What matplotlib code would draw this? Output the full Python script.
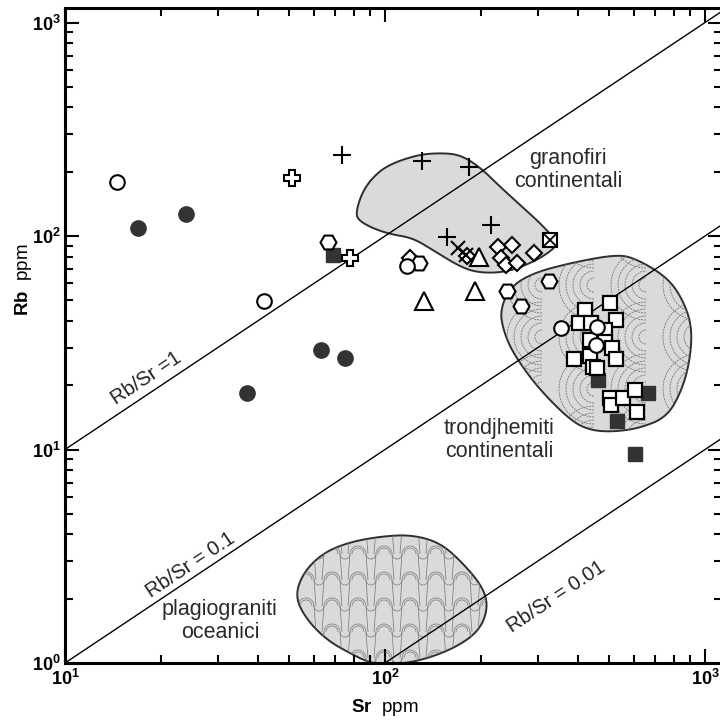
import numpy as np
import matplotlib
matplotlib.use("Agg")
import matplotlib.pyplot as plt
from matplotlib.patches import Polygon
from matplotlib.collections import LineCollection
from matplotlib.ticker import FuncFormatter, LogLocator, NullFormatter

plt.rcParams['font.family'] = ['Liberation Sans', 'DejaVu Sans']
plt.rcParams['mathtext.fontset'] = 'custom'
plt.rcParams['mathtext.rm'] = 'Liberation Sans'
plt.rcParams['mathtext.bf'] = 'Liberation Sans:bold'
plt.rcParams['mathtext.it'] = 'Liberation Sans:italic'

# campioni (Sr, Rb in ppm)
sr_cerchi_pieni = [16.9, 23.9, 37.0, 63.1, 75.0]
rb_cerchi_pieni = [109, 127, 18.4, 29.2, 26.8]
sr_cerchi = [14.5, 41.9, 117, 355, 460, 456]
rb_cerchi = [179, 49.6, 72.4, 37.1, 37.5, 30.9]
sr_croci = [51.2, 77.7]
rb_croci = [187, 78.9]
sr_piu = [73.4, 130.5, 183, 214, 156]
rb_piu = [239, 224, 210, 113, 98.9]
sr_x = [169, 179]
rb_x = [87.9, 81.5]
sr_rombi = [119.7, 180, 225, 249, 230, 239, 258, 292]
rb_rombi = [78.9, 80.6, 88.8, 90.7, 78.9, 73.1, 74.7, 83.2]
sr_quad_x = [328]
rb_quad_x = [95.8]
sr_triangoli = [197, 191, 132]
rb_triangoli = [79.7, 55.3, 49.6]
sr_esagoni = [66.4, 128, 241, 266, 325]
rb_esagoni = [93.7, 74.7, 55.3, 47.0, 61.5]
sr_quad_pieni = [68.8, 463, 531, 664, 604]
rb_quad_pieni = [81.5, 21.2, 13.6, 18.4, 9.53]
sr_quad = [422, 505, 527, 404, 440, 487, 437, 487, 512, 390, 437, 527, 447, 460,
           505, 508, 554, 604, 613]
rb_quad = [45.0, 48.5, 40.4, 39.1, 39.1, 36.3, 32.6, 31.9, 29.9, 26.5, 27.4, 26.5,
           24.3, 24.1, 17.4, 16.2, 17.4, 19.0, 15.0]

# campi
sr_granofiri = [81.2, 84.7, 91.1, 102, 126, 149, 172, 198, 229, 264, 305, 335, 345,
                323, 290, 241, 198, 172, 141, 122, 104, 91.1, 82.3]
rb_granofiri = [130, 159, 187, 215, 240, 245, 240, 210, 170, 140, 115, 98.9, 90.7,
                83.2, 75.5, 67.8, 67.1, 71.6, 86, 97.9, 102, 109, 119]
sr_trond = [290, 379, 516, 596, 761, 854, 911, 898, 847, 761, 626, 516, 437, 379,
            299, 251, 234, 229, 246]
rb_trond = [67.1, 74.7, 81.5, 79.7, 64.3, 50.1, 37.5, 26.3, 19.0, 14.2, 12.6, 12.1,
            12.3, 13.7, 19.6, 28.3, 36.3, 45.0, 57.7]
sr_plag = [52.3, 55.4, 64.0, 77.7, 98.6, 122, 149, 175, 202, 210, 198, 168, 131, 104,
           89.8, 77.7, 65.9, 57.0]
rb_plag = [2.04, 2.64, 3.28, 3.69, 3.93, 3.98, 3.65, 2.94, 2.27, 1.83, 1.43, 1.19,
           1.03, 0.979, 1.0, 1.11, 1.28, 1.59]

rapporti = [1, 0.1, 0.01]
etichette_rapporti = ["Rb/Sr =1", "Rb/Sr = 0.1", "Rb/Sr = 0.01"]
pos_etichette_rapporti = [(17.9, 21.6), (24.6, 2.88), (342, 2.04)]

campi_testo = ["granofiri\ncontinentali", "trondjhemiti\ncontinentali",
               "plagiograniti\noceanici"]
pos_campi_testo = [(373, 204), (227, 11.1), (30.5, 1.57)]

x_min, x_max = 10, 10 ** 3.053
y_min, y_max = 1, 10 ** 3.068


def liscia(xs, ys, n=3):
    # arrotonda il contorno (taglio degli angoli in scala log)
    p = np.column_stack([np.log10(xs), np.log10(ys)])
    for _ in range(n):
        q = np.roll(p, -1, axis=0)
        p = np.stack([0.75 * p + 0.25 * q, 0.25 * p + 0.75 * q], axis=1).reshape(-1, 2)
    return 10 ** p


fig = plt.figure(figsize=(7.2, 7.24), dpi=100)
ax = fig.add_axes([65 / 720, 61 / 724, 657 / 720, 655 / 724])
ax.set_xscale('log')
ax.set_yscale('log')
ax.set_xlim(x_min, x_max)
ax.set_ylim(y_min, y_max)

grigio_campo = '#dadada'
bordo = '#2e2e2e'

campi = []
for xs, ys in [(sr_granofiri, rb_granofiri), (sr_trond, rb_trond), (sr_plag, rb_plag)]:
    pg = Polygon(liscia(xs, ys), closed=True, facecolor=grigio_campo, edgecolor=bordo,
                 lw=1.4, zorder=1)
    ax.add_patch(pg)
    campi.append(pg)

# trama ad archi concentrici (trondjhemiti), in coordinate assi
W, H = 657.0, 655.0
segs = []
th = np.linspace(np.pi / 2, 3 * np.pi / 2, 40)
for cx in np.arange(425, 680, 52):
    for cy in np.arange(225, 470, 52):
        for r in [7, 14, 21, 28, 35]:
            px = cx + r * np.cos(th)
            py = cy + r * np.sin(th)
            segs.append(np.column_stack([px / W, 1 - py / H]))
lc = LineCollection(segs, colors='#7a7a7a', linewidths=0.6, transform=ax.transAxes,
                    zorder=1.5, linestyles=(0, (2.5, 1)))
lc.set_clip_path(campi[1])
ax.add_collection(lc)

# trama a coppi (plagiograniti)
segs = []
th_up = np.linspace(0, np.pi, 20)
th_dn = np.linspace(np.pi, 2 * np.pi, 20)
for cy in np.arange(520, 680, 26):
    for cx in np.arange(215, 500, 26):
        for r in [8, 6]:
            segs.append(np.column_stack([(cx + r * np.cos(th_up)) / W,
                                         1 - (cy - r * np.sin(th_up)) / H]))
        segs.append(np.column_stack([(cx + 13 + 5 * np.cos(th_dn)) / W,
                                     1 - (cy - 5 * np.sin(th_dn)) / H]))
        segs.append(np.array([[(cx - 8) / W, 1 - cy / H], [(cx - 10) / W, 1 - (cy + 26) / H]]))
        segs.append(np.array([[(cx + 8) / W, 1 - cy / H], [(cx + 10) / W, 1 - (cy + 26) / H]]))
lc2 = LineCollection(segs, colors='#7e7e7e', linewidths=0.55, transform=ax.transAxes,
                     zorder=1.5)
lc2.set_clip_path(campi[2])
ax.add_collection(lc2)

# rette Rb/Sr
xx = np.array([x_min, x_max])
for r in rapporti:
    ax.plot(xx, r * xx, color='black', lw=1.0, zorder=2)

p0 = ax.transData.transform((10, 10))
p1 = ax.transData.transform((1000, 1000))
ang = np.degrees(np.arctan2(p1[1] - p0[1], p1[0] - p0[0]))
for t, (x, y) in zip(etichette_rapporti, pos_etichette_rapporti):
    ax.text(x, y, t, rotation=ang, rotation_mode='anchor', ha='center', va='center',
            fontsize=14.5, color='#222222', zorder=3)

for t, (x, y) in zip(campi_testo, pos_campi_testo):
    ax.text(x, y, t, ha='center', va='center', fontsize=15.5, color='#2a2a2a',
            linespacing=1.1, zorder=3)

# simboli
k = dict(linestyle='none', zorder=4)
ax.plot(sr_quad_pieni, rb_quad_pieni, marker='s', ms=9.5, mfc='#333333', mec='#333333', **k)
ax.plot(sr_cerchi_pieni, rb_cerchi_pieni, marker='o', ms=11, mfc='#333333', mec='#333333', **k)
ax.plot(sr_quad, rb_quad, marker='s', ms=9.5, mfc='white', mec='black', mew=1.6, **k)
ax.plot(sr_rombi, rb_rombi, marker='D', ms=8.5, mfc='white', mec='black', mew=1.5, **k)
ax.plot(sr_triangoli, rb_triangoli, marker='^', ms=13, mfc='white', mec='black', mew=1.5, **k)
ax.plot(sr_esagoni, rb_esagoni, marker='H', ms=11.5, mfc='white', mec='black', mew=1.5, **k)
ax.plot(sr_cerchi, rb_cerchi, marker='o', ms=10.5, mfc='white', mec='black', mew=1.5, **k)
ax.plot(sr_croci, rb_croci, marker='P', ms=11.5, mfc='white', mec='black', mew=1.5, **k)
ax.plot(sr_piu, rb_piu, marker='+', ms=13, mec='black', mew=1.5, **k)
ax.plot(sr_x, rb_x, marker='x', ms=10, mec='black', mew=1.5, **k)
ax.plot(sr_quad_x, rb_quad_x, marker='s', ms=10.5, mfc='white', mec='black', mew=1.5, **k)
ax.plot(sr_quad_x, rb_quad_x, marker='x', ms=10.5, mec='black', mew=1.3, **k)

# assi
for s in ax.spines.values():
    s.set_linewidth(2.2)
fmt = FuncFormatter(lambda v, p: r'$\mathbf{10^{%d}}$' % int(round(np.log10(v))))
for a in (ax.xaxis, ax.yaxis):
    a.set_major_locator(LogLocator(base=10, numticks=10))
    a.set_minor_locator(LogLocator(base=10, subs=np.arange(2, 10), numticks=10))
    a.set_major_formatter(fmt)
    a.set_minor_formatter(NullFormatter())
ax.tick_params(which='both', direction='in', top=True, right=True, width=1.5,
               labelsize=13, pad=4)
ax.tick_params(which='major', length=10)
ax.tick_params(which='minor', length=6)
ax.tick_params(axis='y', pad=3)

ax.set_xlabel(r'$\mathbf{Sr}$  ppm', fontsize=13.5)
ax.set_ylabel(r'$\mathbf{Rb}$  ppm', fontsize=13.5)
ax.xaxis.set_label_coords((385 - 65) / 657, -(697 - 663) / 655)
ax.yaxis.set_label_coords(-(65 - 34) / 657, (663 - 280) / 655)

fig.savefig('out.png', dpi=100)
